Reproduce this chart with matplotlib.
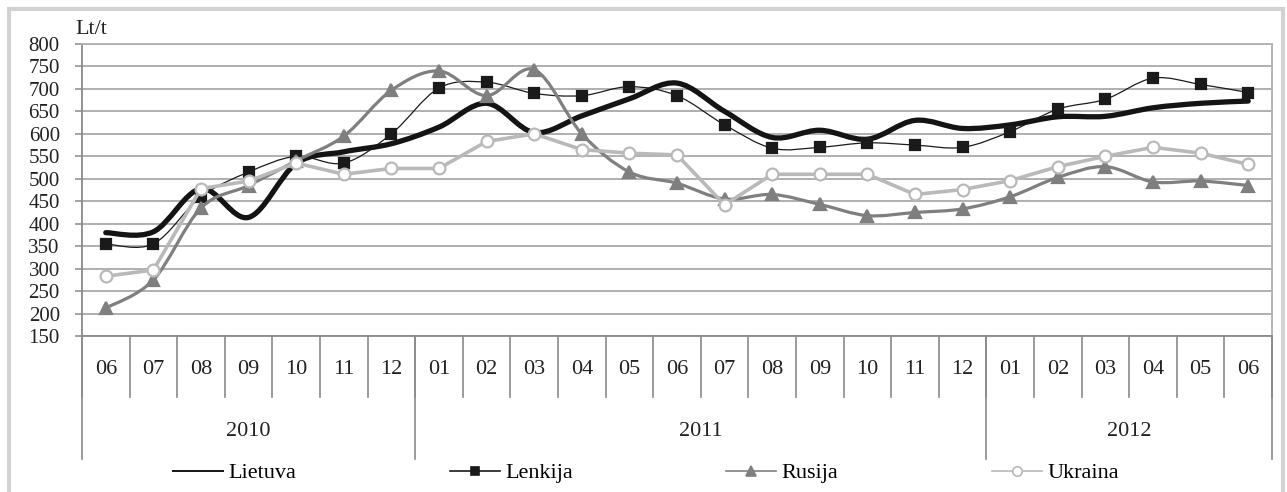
import matplotlib
matplotlib.use('Agg')
import matplotlib.pyplot as plt
from matplotlib.path import Path
from matplotlib.patches import PathPatch, Rectangle
from matplotlib.lines import Line2D
import numpy as np

# ---------------- data ----------------
months = ['06', '07', '08', '09', '10', '11', '12',
          '01', '02', '03', '04', '05', '06', '07', '08', '09', '10', '11', '12',
          '01', '02', '03', '04', '05', '06']
years = ['2010', '2011', '2012']
year_counts = [7, 12, 6]

lietuva = [380, 382, 478, 414, 534, 560, 578,
           615, 668, 603, 640, 678, 713, 650, 592, 608, 588, 630, 612,
           620, 638, 639, 658, 668, 673]
lenkija = [355, 355, 460, 515, 550, 535, 600,
           702, 715, 690, 685, 705, 685, 620, 568, 570, 580, 575, 570,
           605, 655, 677, 724, 710, 692]
rusija = [212, 275, 435, 485, 540, 595, 697,
          740, 685, 743, 600, 515, 490, 455, 465, 443, 418, 425, 433,
          460, 503, 527, 493, 495, 485]
ukraina = [283, 297, 478, 495, 535, 510, 523,
           523, 583, 600, 565, 557, 553, 442, 510, 510, 510, 465, 476,
           496, 527, 550, 570, 557, 532]

series_names = ['Lietuva', 'Lenkija', 'Rusija', 'Ukraina']

# ---------------- figure ----------------
W, H = 1287, 492
plt.rcParams['font.family'] = ['Liberation Serif', 'DejaVu Serif']
fig = plt.figure(figsize=(W / 100, H / 100), dpi=100)
fig.patch.set_facecolor('white')

ax_left, ax_right, ax_top, ax_bottom = 82, 1272, 44, 336
ax = fig.add_axes([ax_left / W, 1 - ax_bottom / H,
                   (ax_right - ax_left) / W, (ax_bottom - ax_top) / H])

x = np.arange(len(months))
ax.set_xlim(-0.5, len(months) - 0.5)
ax.set_ylim(150, 800)
ax.set_yticks(np.arange(150, 801, 50))
ax.yaxis.grid(True, color='#a9a9a9', lw=1.3)
ax.set_axisbelow(True)
ax.tick_params(axis='y', direction='out', length=5, width=1.1, color='#8a8a8a',
               labelsize=15, pad=11, labelcolor='#222222')
ax.set_xticks([])

for s in ['left', 'bottom']:
    ax.spines[s].set_color('#8a8a8a')
    ax.spines[s].set_linewidth(1.3)
for s in ['top', 'right']:
    ax.spines[s].set_color('#b0b0b0')
    ax.spines[s].set_linewidth(1.3)


def smooth_path(xs, ys):
    pts = np.column_stack([xs, ys]).astype(float)
    n = len(pts)
    verts = [pts[0]]
    codes = [Path.MOVETO]
    for i in range(n - 1):
        p0 = pts[i - 1] if i > 0 else pts[i]
        p1 = pts[i]
        p2 = pts[i + 1]
        p3 = pts[i + 2] if i + 2 < n else pts[i + 1]
        c1 = p1 + (p2 - p0) / 6.0
        c2 = p2 - (p3 - p1) / 6.0
        verts += [c1, c2, p2]
        codes += [Path.CURVE4] * 3
    return Path(verts, codes)


styles = {
    'Lietuva': dict(color='#141414', lw=3.8, marker=None, smooth=True),
    'Lenkija': dict(color='#1a1a1a', lw=0.9, marker='s', ms=7.5, mfc='#1a1a1a',
                    mec='#1a1a1a', smooth=True),
    'Rusija': dict(color='#7f7f7f', lw=2.3, marker='^', ms=8.5, mfc='#7f7f7f',
                   mec='#7f7f7f', smooth=True),
    'Ukraina': dict(color='#b9b9b9', lw=2.6, marker='o', ms=8.5, mfc='white',
                    mec='#b9b9b9', smooth=False),
}
data = {'Lietuva': lietuva, 'Lenkija': lenkija, 'Rusija': rusija, 'Ukraina': ukraina}

handles = []
for z, name in enumerate(series_names):
    st = styles[name]
    ys = data[name]
    if st['smooth']:
        ax.add_patch(PathPatch(smooth_path(x, ys), fill=False, edgecolor=st['color'],
                               lw=st['lw'], zorder=3 + 2 * z, capstyle='round',
                               joinstyle='round'))
    else:
        ax.plot(x, ys, color=st['color'], lw=st['lw'], zorder=3 + 2 * z,
                solid_joinstyle='round', solid_capstyle='round')
    if st['marker']:
        ax.plot(x, ys, ls='none', marker=st['marker'], ms=st['ms'], mfc=st['mfc'],
                mec=st['mec'], mew=1.6, zorder=4 + 2 * z, clip_on=False)
        handles.append(Line2D([], [], color=st['color'], lw=1.2, marker=st['marker'],
                              ms=st['ms'] * 0.8, mfc=st['mfc'], mec=st['mec'], mew=1.2))
    else:
        handles.append(Line2D([], [], color=st['color'], lw=1.4))

# ---------------- multi-level category axis ----------------
axh = ax_bottom - ax_top
tr = ax.get_xaxis_transform()
month_tick_bottom = -(397 - ax_bottom) / axh
year_line_bottom = -(459 - ax_bottom) / axh
month_label_y = -(370 - ax_bottom) / axh
year_label_y = -(432 - ax_bottom) / axh

for b in np.arange(-0.5, len(months), 1.0):
    ax.plot([b, b], [0, month_tick_bottom], transform=tr, clip_on=False,
            color='#8a8a8a', lw=1.2)
for i, m in enumerate(months):
    ax.text(i, month_label_y, m, transform=tr, ha='center', va='center',
            fontsize=16, color='#222222')

start = 0
bounds = [-0.5]
for yr, cnt in zip(years, year_counts):
    centre = start + (cnt - 1) / 2.0
    ax.text(centre, year_label_y, yr, transform=tr, ha='center', va='center',
            fontsize=16, color='#222222')
    start += cnt
    bounds.append(start - 0.5)
for b in bounds:
    ax.plot([b, b], [0, year_line_bottom], transform=tr, clip_on=False,
            color='#8a8a8a', lw=1.2)

# ---------------- unit label ----------------
fig.text(75 / W, 1 - 29 / H, 'Lt/t', ha='left', va='center', fontsize=16,
         color='#222222')

# ---------------- legend ----------------
fig.legend(handles, series_names, loc='center', bbox_to_anchor=(646 / W, 1 - 473 / H),
           ncol=4, frameon=False, fontsize=16, handlelength=2.25, handletextpad=0.25,
           columnspacing=6.9, borderpad=0.2)

# ---------------- outer frame ----------------
fig.patches.append(Rectangle((9 / W, -0.2), (1283 - 9) / W, 1.2 - 9 / H,
                             transform=fig.transFigure, fill=False,
                             edgecolor='#d2d2d2', lw=3, zorder=0))

fig.savefig('out.png', dpi=100, facecolor='white')
